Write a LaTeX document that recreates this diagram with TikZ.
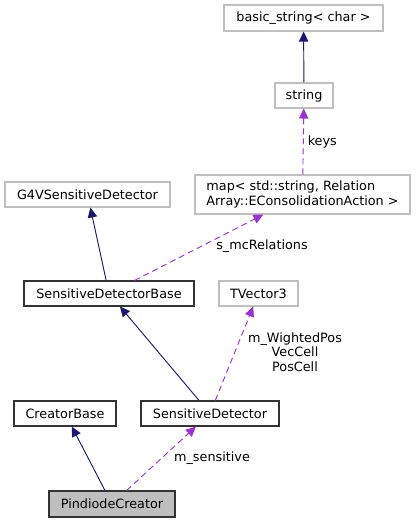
\documentclass[tikz,border=0pt]{standalone}
\usepackage{fontspec}
\setmainfont{DejaVu Sans}
\usetikzlibrary{arrows.meta}
\definecolor{edgeblue}{HTML}{191970}
\definecolor{edgepurple}{HTML}{9A32CD}
\definecolor{boxgray}{HTML}{BFBFBF}
\begin{document}
\begin{tikzpicture}[x=0.75pt,y=-0.75pt,
    every node/.style={font=\fontsize{9.6}{11}\selectfont, inner sep=0pt, text=black},
    ext/.style={draw=boxgray, fill=white, line width=0.8pt},
    cls/.style={draw=black!80, fill=white, line width=0.8pt},
    inherit/.style={edgeblue, line width=0.7pt, -{Triangle[length=7.5pt,width=7pt]}},
    member/.style={edgepurple, line width=0.7pt, dash pattern=on 4.5pt off 3pt, -{Triangle[length=7.5pt,width=7pt]}},
    lbl/.style={align=center}]
  \useasboundingbox (0,0) rectangle (417,523);
  \node[ext, minimum width=119.25pt, minimum height=19.5pt] (basic) at (303.5,18) {basic\_string< char >};
  \node[ext, minimum width=43.5pt, minimum height=18.75pt] (string) at (304,95.5) {string};
  \node[ext, minimum width=161.25pt, minimum height=29.25pt, align=left] (map) at (302.5,194.5) {map< std::string, Relation\\Array::EConsolidationAction >};
  \node[ext, minimum width=123.75pt, minimum height=18.75pt] (g4v) at (87.5,194.5) {G4VSensitiveDetector};
  \node[cls, minimum width=127.5pt, minimum height=18.75pt] (sdbase) at (109,293.5) {SensitiveDetectorBase};
  \node[ext, minimum width=59.25pt, minimum height=18.75pt] (tvec) at (258.5,293.5) {TVector3};
  \node[cls, minimum width=76.5pt, minimum height=18.75pt] (creator) at (65,413.5) {CreatorBase};
  \node[cls, minimum width=103.5pt, minimum height=18.75pt] (sd) at (210,413.5) {SensitiveDetector};
  \node[cls, fill=boxgray, minimum width=94.5pt, minimum height=19.5pt] (pin) at (112,504) {PindiodeCreator};
  \draw[inherit] (string) -- (basic);
  \draw[member] (map) -- (string) node[pos=0.5, anchor=west, xshift=3pt] (keys) {keys};
  \draw[inherit] (sdbase) -- (g4v);
  \draw[member] (sdbase) -- (map);
  \node[lbl] (mcrel) at (262,246) {s\_mcRelations};
  \draw[inherit] (sd) -- (sdbase);
  \draw[member] (sd) -- (tvec);
  \node[lbl] (wpos) at (295,352) {m\_WightedPos\\VecCell\\PosCell};
  \draw[inherit] (pin) -- (creator);
  \draw[member] (pin) -- (sd);
  \node[lbl] (msens) at (212,458) {m\_sensitive};
\end{tikzpicture}
\end{document}
